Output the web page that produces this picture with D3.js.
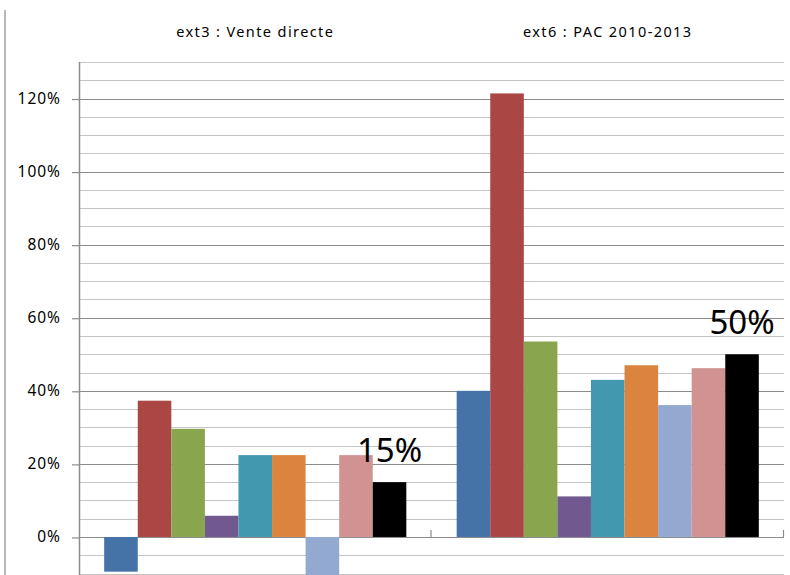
<!DOCTYPE html>
<html>
<head>
<meta charset="utf-8">
<script src="https://cdn.jsdelivr.net/npm/d3@7/dist/d3.min.js"></script>
<style>
  html, body { margin: 0; padding: 0; background: #fff; }
  svg { display: block; }
  text { font-family: "Noto Sans", "DejaVu Sans", sans-serif; fill: #000; }
</style>
</head>
<body>
<svg id="chart" width="790" height="575"></svg>
<script>
// ---- data ----
const categories = ["ext3 : Vente directe", "ext6 : PAC 2010-2013"];
const seriesNames = ["s1", "s2", "s3", "s4", "s5", "s6", "s7", "s8", "s9"];
const seriesColors = ["#4572A7", "#AA4643", "#89A54E", "#71588F", "#4198AF", "#DB843D", "#93A9CF", "#D19392", "#000000"];
// values in % per series: [ext3, ext6]
const s1 = [-9.5, 40];
const s2 = [37.3, 121.4];
const s3 = [29.6, 53.5];
const s4 = [5.8, 11.1];
const s5 = [22.4, 43.0];
const s6 = [22.4, 47.0];
const s7 = [-11, 36.1];
const s8 = [22.4, 46.2];
const s9 = [15, 50];
const seriesValues = [s1, s2, s3, s4, s5, s6, s7, s8, s9];
const dataLabels = ["15%", "50%"]; // shown above the last series
const yTicks = [0, 20, 40, 60, 80, 100, 120];
const yMinorTicks = [-10, -5, 5, 10, 15, 25, 30, 35, 45, 50, 55, 65, 70, 75, 85, 90, 95, 105, 110, 115, 125, 130];

// ---- layout ----
const svg = d3.select("#chart");
const plotLeft = 79, plotRight = 784, plotTop = 62, plotBottom = 573.5;

const x0 = d3.scaleBand().domain(categories).range([plotLeft, plotRight]).paddingInner(0).paddingOuter(0);
const x1 = d3.scaleBand().domain(seriesNames).range([0, x0.bandwidth()]).paddingInner(0).paddingOuter(0.75);
const y = d3.scaleLinear().domain([-10, 130]).range([plotBottom, plotTop]);

// left border line
svg.append("line").attr("x1", 5).attr("x2", 5).attr("y1", 10).attr("y2", 575)
  .attr("stroke", "#a0a0a0").attr("stroke-width", 1.5);

// minor gridlines
svg.append("g").selectAll("line").data(yMinorTicks).join("line")
  .attr("x1", plotLeft).attr("x2", plotRight)
  .attr("y1", d => Math.round(y(d)) + 0.5).attr("y2", d => Math.round(y(d)) + 0.5)
  .attr("stroke", "#c4c4c4").attr("stroke-width", 1.2);

// major gridlines
svg.append("g").selectAll("line").data(yTicks).join("line")
  .attr("x1", plotLeft).attr("x2", plotRight)
  .attr("y1", d => Math.round(y(d)) + 0.5).attr("y2", d => Math.round(y(d)) + 0.5)
  .attr("stroke", "#8c8c8c").attr("stroke-width", 1.2);

// bars
const groups = svg.append("g").selectAll("g").data(categories).join("g")
  .attr("transform", d => `translate(${x0(d)},0)`);
groups.selectAll("rect")
  .data((c, ci) => seriesNames.map((s, si) => ({ s, si, v: seriesValues[si][ci] })))
  .join("rect")
  .attr("x", d => x1(d.s))
  .attr("width", x1.bandwidth())
  .attr("y", d => y(Math.max(0, d.v)))
  .attr("height", d => Math.abs(y(d.v) - y(0)))
  .attr("fill", d => seriesColors[d.si]);

// y axis
const yAxis = d3.axisLeft(y).tickValues(yTicks).tickSize(7).tickPadding(11)
  .tickFormat(d => d + "%");
const ya = svg.append("g").attr("transform", `translate(${plotLeft},0)`).call(yAxis);
ya.select(".domain").remove();
ya.selectAll(".tick line").attr("stroke", "#8c8c8c").attr("stroke-width", 1.2)
  .attr("transform", "translate(0,0.5)");
ya.selectAll(".tick text").attr("font-size", 15.5).attr("font-family", "Noto Sans")
  .attr("letter-spacing", 1).attr("fill", "#000");
svg.append("line").attr("x1", plotLeft + 0.5).attr("x2", plotLeft + 0.5)
  .attr("y1", plotTop).attr("y2", 575).attr("stroke", "#8c8c8c").attr("stroke-width", 1.5);

// category separator ticks on the zero line
svg.append("g").selectAll("line").data(categories.map(c => x0(c) + x0.bandwidth())).join("line")
  .attr("x1", d => d - 0.5).attr("x2", d => d - 0.5)
  .attr("y1", y(0) - 7).attr("y2", y(0))
  .attr("stroke", "#8c8c8c").attr("stroke-width", 1.2);

// category titles
svg.append("g").selectAll("text").data(categories).join("text")
  .attr("x", d => x0(d) + x0.bandwidth() / 2)
  .attr("y", 37)
  .attr("text-anchor", "middle")
  .attr("font-size", 14.5)
  .attr("letter-spacing", 1.4)
  .attr("fill", "#111")
  .text(d => d);

// data labels above last series
svg.append("g").selectAll("text").data(categories).join("text")
  .attr("x", (c) => x0(c) + x1(seriesNames[8]) + x1.bandwidth() / 2)
  .attr("y", (c, i) => y(seriesValues[8][i]) - 20)
  .attr("text-anchor", "middle")
  .attr("font-size", 33)
  .text((c, i) => dataLabels[i]);
</script>
</body>
</html>
